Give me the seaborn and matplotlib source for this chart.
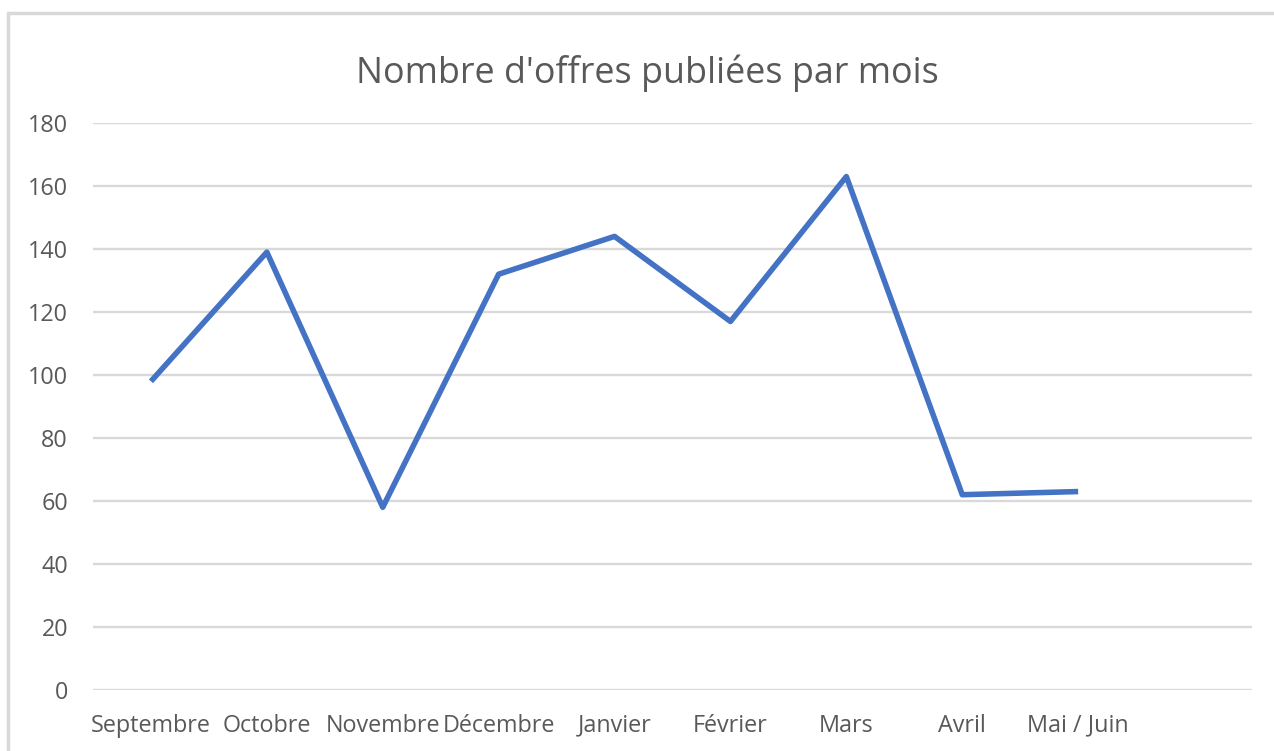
import matplotlib
matplotlib.use("Agg")
import matplotlib.pyplot as plt
import matplotlib.patches as mpatches
import pandas as pd
import seaborn as sns

months = ["Septembre", "Octobre", "Novembre", "Décembre", "Janvier",
          "Février", "Mars", "Avril", "Mai / Juin"]
offres = [98, 139, 58, 132, 144, 117, 163, 62, 63]
y_ticks = [0, 20, 40, 60, 80, 100, 120, 140, 160, 180]

df = pd.DataFrame({"mois": months, "offres": offres})

sns.set_theme(style="white")
plt.rcParams["font.family"] = ["Open Sans", "DejaVu Sans"]

fig = plt.figure(figsize=(12.74, 7.51), dpi=100)
ax = fig.add_axes([93 / 1274, 1 - 690 / 751, (1252 - 93) / 1274, (690 - 123) / 751])

sns.lineplot(data=df, x="mois", y="offres", sort=False, ax=ax,
             color="#4472C4", linewidth=4, solid_capstyle="butt")

ax.set_xlim(-0.5, 9.5)
ax.set_ylim(0, 180)
ax.set_yticks(y_ticks)
ax.set_xticks(range(len(months)))
ax.set_xticklabels(months, va="baseline")
ax.grid(axis="y", color="#d9d9d9", linewidth=1.7)
ax.set_axisbelow(True)
for s in ax.spines.values():
    s.set_visible(False)
ax.tick_params(axis="x", length=0, pad=30, labelsize=16.8, labelcolor="#595959")
ax.tick_params(axis="y", length=0, pad=18, labelsize=16.8, labelcolor="#595959")
ax.set_xlabel("")
ax.set_ylabel("")

fig.text(647 / 1274, 1 - 73 / 751, "Nombre d'offres publiées par mois",
         ha="center", va="center", fontsize=25.8, color="#595959")

# chart border (Excel-style frame)
fig.patches.append(mpatches.Rectangle((8 / 1274, -0.05), 1.1, 1 - 13 / 751 + 0.05,
                                      transform=fig.transFigure, fill=False,
                                      edgecolor="#d9d9d9", linewidth=2.5))

fig.savefig("out.png", dpi=100, facecolor="white")
